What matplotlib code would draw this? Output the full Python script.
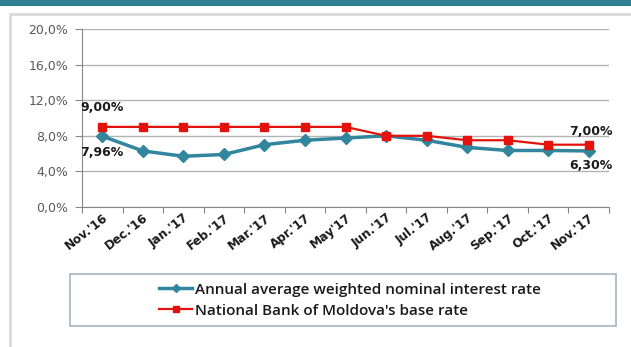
import matplotlib.pyplot as plt
from matplotlib.patches import Rectangle
from matplotlib.ticker import FixedLocator, NullFormatter

months = ["Nov.'16", "Dec.'16", "Jan.'17", "Feb.'17", "Mar.'17", "Apr.'17", "May'17",
          "Jun.'17", "Jul.'17", "Aug.'17", "Sep.'17", "Oct.'17", "Nov.'17"]
avg_rate = [7.96, 6.30, 5.70, 5.90, 7.00, 7.50, 7.75, 8.00, 7.50, 6.70, 6.35, 6.35, 6.30]
base_rate = [9.00, 9.00, 9.00, 9.00, 9.00, 9.00, 9.00, 8.00, 8.00, 7.50, 7.50, 7.00, 7.00]
y_ticks = [0, 4, 8, 12, 16, 20]

TEAL = "#31859C"
RED = "#E3120B"

W, H = 631, 347
fig = plt.figure(figsize=(W / 100, H / 100), dpi=100)

# header band and outer frame
fig.patches.append(Rectangle((0, 1 - 6 / H), 1, 6 / H, transform=fig.transFigure,
                             facecolor="#2F7E91", edgecolor="none"))
fig.patches.append(Rectangle((10 / W, -0.05), 1.1, 1 - 14 / H + 0.05, transform=fig.transFigure,
                             facecolor="none", edgecolor="#D9D9D9", linewidth=2))

ax = fig.add_axes([82 / W, 1 - 207 / H, (609 - 82) / W, (207 - 29) / H])
x = list(range(len(months)))

ax.set_ylim(0, 20)
ax.set_xlim(-0.5, len(months) - 0.5)
ax.set_yticks(y_ticks)
ax.set_yticklabels([f"{v:.1f}%".replace(".", ",") for v in y_ticks],
                   fontsize=9, color="#595959")
ax.grid(axis="y", color="#B3B3B3", linewidth=1)
ax.set_axisbelow(True)

# category axis: ticks between months, labels centred on months
ax.xaxis.set_major_locator(FixedLocator([i - 0.5 for i in range(len(months) + 1)]))
ax.xaxis.set_major_formatter(NullFormatter())
ax.xaxis.set_minor_locator(FixedLocator(x))
ax.set_xticklabels(months, minor=True, rotation=38, ha="right", rotation_mode="anchor",
                   fontsize=8.7, fontweight="bold", color="#1a1a1a")
ax.tick_params(axis="x", which="minor", length=0, pad=3)
ax.tick_params(axis="x", which="major", length=4, color="#868686")
ax.tick_params(axis="y", length=5, color="#868686", pad=5)

for side in ["top", "right"]:
    ax.spines[side].set_visible(False)
for side in ["left", "bottom"]:
    ax.spines[side].set_color("#868686")

ax.plot(x, avg_rate, color=TEAL, linewidth=2.5, marker="D", markersize=6,
        label="Annual average weighted nominal interest rate")
ax.plot(x, base_rate, color=RED, linewidth=1.6, marker="s", markersize=5.5,
        label="National Bank of Moldova's base rate")

lbl = dict(fontsize=9, fontweight="bold", color="#1a1a1a", textcoords="offset points")
ax.annotate(f"{base_rate[0]:.2f}%".replace(".", ","), (x[0], base_rate[0]),
            xytext=(-16, 9), ha="left", va="bottom", **lbl)
ax.annotate(f"{avg_rate[0]:.2f}%".replace(".", ","), (x[0], avg_rate[0]),
            xytext=(-16, -7), ha="left", va="top", **lbl)
ax.annotate(f"{base_rate[-1]:.2f}%".replace(".", ","), (x[-1], base_rate[-1]),
            xytext=(17, 5), ha="right", va="bottom", **lbl)
ax.annotate(f"{avg_rate[-1]:.2f}%".replace(".", ","), (x[-1], avg_rate[-1]),
            xytext=(17, -6), ha="right", va="top", **lbl)

# legend box below the chart
fig.patches.append(Rectangle((70 / W, 1 - 326 / H), (616 - 70) / W, 52 / H,
                             transform=fig.transFigure, facecolor="white",
                             edgecolor="#A9BCC8", linewidth=1.3))
leg = fig.legend(loc="upper left", bbox_to_anchor=(148 / W, 1 - 272 / H),
                 frameon=False, fontsize=11, handlelength=2.2, handletextpad=0.2,
                 labelspacing=0.45, borderpad=0.2, markerscale=0.7)
for t in leg.get_texts():
    t.set_fontweight("semibold")
    t.set_family("Open Sans")
    t.set_color("#1a1a1a")

fig.savefig("out.png", dpi=100)
